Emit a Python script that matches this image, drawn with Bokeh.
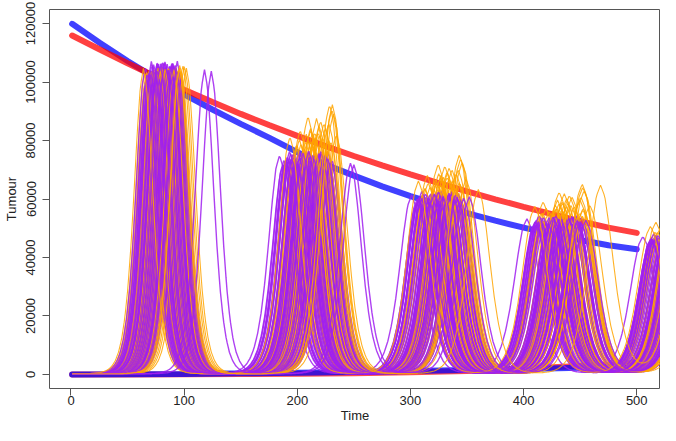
import numpy as np
from bokeh.plotting import figure
from bokeh.models import FixedTicker, BasicTickFormatter, Range1d, ColumnDataSource
from bokeh.embed import file_html
from bokeh.resources import INLINE

# ---------------- data ----------------
# thick decaying lines (top)
T_ENV = [1, 25, 50, 75, 100, 125, 150, 175, 200, 225, 250, 275, 300, 325, 350, 375, 400, 425, 450, 475, 500]
BLUE_TOP = [119900, 113500, 107200, 101300, 95800, 90600, 85700, 81000, 76000, 71800, 68000, 64300,
            61000, 58000, 55200, 52600, 50200, 48000, 46000, 44200, 42800]
RED_TOP = [115900, 111200, 106400, 101800, 97400, 93200, 89100, 85300, 81600, 78100, 74700, 71500,
           68400, 65400, 62600, 59900, 57300, 54800, 52400, 50200, 48400]
# thick lines near zero
T_LOW = [1, 50, 100, 150, 200, 250, 300, 350, 400, 450, 500]
BLUE_LOW = [0, 80, 200, 380, 600, 850, 1150, 1500, 1900, 2300, 2700]
RED_LOW = [0, 20, 60, 130, 250, 450, 750, 1200, 2000, 2900, 3800]

# oscillation waves: centre time, half spread, width, base height
WAVE_CENTRE_P = [81, 208, 324, 429, 528]
WAVE_SPREAD_P = [17, 26, 25, 28, 24]
WAVE_CENTRE_O = [83, 214, 328, 434, 533]
WAVE_SPREAD_O = [20, 22, 23, 27, 24]
WAVE_WIDTH = [11, 13, 14, 15, 15]
WAVE_HEIGHT_P = [104000, 74000, 60500, 52500, 46500]
WAVE_HEIGHT_O = [104000, 78000, 63500, 55000, 48500]
WAVE_HEIGHT_GAIN_O = [0.1, 1, 1, 1, 1]

# one pulse profile (relative height vs distance from the peak, in widths)
PULSE_U = [0, 0.25, 0.5, 0.75, 1.0, 1.25, 1.5, 1.75, 2.0, 2.25, 2.5, 2.75, 3.0, 3.5, 4.0, 4.5, 5.0]
PULSE_V = [1.0, 0.940, 0.787, 0.597, 0.420, 0.280, 0.181, 0.114, 0.0707, 0.0435, 0.0266, 0.0162,
           0.0099, 0.0036, 0.0013, 0.0005, 0.0]

# purple runs
P_PHASE = [0.12, -0.41, 0.63, -0.08, 0.35, -0.77, 0.02, 0.48, -0.22, 0.81,
           -0.55, 0.19, -0.03, 0.27, -0.66, 0.55, -0.15, 0.09, -0.33, 0.71,
           -0.90, 0.41, -0.11, 0.23, -0.48, 0.05, 0.92, -0.27, 0.31, -0.60,
           0.15, -0.06, 0.58, -0.37, 0.44, -0.19, 0.76, -0.72, 0.07, 0.38,
           -0.52, 0.25, -0.01, 0.67, -0.30, 0.11, -0.84, 0.50, -0.13, 0.33,
           -0.44, 0.86, -0.24, 0.03, 0.60, -0.63, 0.21, -0.09, 0.46, -0.35,
           -0.70, 0.17, -0.04, 0.53, -0.28, 0.36, -0.58, 0.08, 0.69, -0.17,
           0.29, -0.46, 0.00, 0.42, -0.80, 0.13, -0.32, 0.74, -0.12, 0.52]
P_DRIFT = [0.10, -0.05, 0.20, -0.15, 0.00, 0.25, -0.10, 0.05, 0.15, -0.20,
           0.08, -0.02, 0.18, -0.12, 0.03, -0.25, 0.12, 0.06, -0.08, 0.22,
           -0.04, 0.14, -0.18, 0.09, 0.01, -0.11, -0.22, 0.17, -0.06, 0.11,
           0.24, -0.14, 0.04, 0.19, -0.09, 0.07, -0.16, 0.13, -0.01, 0.21,
           -0.07, 0.16, -0.19, 0.02, 0.10, -0.13, 0.23, -0.03, 0.12, -0.21,
           0.05, -0.10, 0.18, -0.17, 0.08, 0.14, -0.05, 0.20, -0.12, 0.01,
           0.06, -0.12, 0.15, -0.07, 0.19, -0.16, 0.04, 0.22, -0.09, 0.11,
           -0.18, 0.07, 0.13, -0.04, 0.17, -0.20, 0.09, -0.11, 0.02, 0.16]
P_HEIGHT = [1.00, 0.98, 1.02, 0.97, 1.01, 0.99, 1.03, 0.98, 1.00, 0.96,
            1.02, 0.99, 1.01, 0.97, 1.00, 1.02, 0.98, 1.03, 0.99, 0.97,
            1.01, 1.00, 0.98, 1.02, 0.96, 1.01, 0.99, 1.03, 0.97, 1.00,
            0.98, 1.02, 1.00, 0.99, 1.01, 0.97, 1.03, 0.98, 1.00, 1.02,
            0.99, 0.96, 1.01, 0.98, 1.02, 1.00, 0.97, 1.03, 0.99, 1.01,
            1.00, 0.98, 1.02, 0.97, 1.01, 0.99, 1.00, 0.96, 1.02, 0.98,
            0.99, 1.01, 0.97, 1.02, 1.00, 0.98, 1.03, 0.99, 1.01, 0.97,
            1.00, 1.02, 0.98, 1.01, 0.99, 1.03, 0.97, 1.00, 1.02, 0.98]
# orange runs
O_PHASE = [0.05, -0.62, 0.44, -0.18, 0.79, -0.35, 0.21, -0.88, 0.33, -0.05,
           0.58, -0.47, 0.13, -0.26, 0.95, -0.71, 0.28, -0.12, 0.66, -0.40,
           0.09, -0.57, 0.49, -0.02, 0.37, -0.81, 0.17, -0.30, 0.72, -0.15,
           0.86, -0.52, 0.24, -0.08, 0.54, -0.22, 0.01, 0.40, -0.95, 0.63]
O_DRIFT = [0.12, -0.08, 0.20, 0.05, -0.15, 0.18, -0.03, 0.25, -0.12, 0.09,
           0.15, -0.20, 0.02, 0.22, -0.06, 0.10, -0.17, 0.14, 0.00, 0.19,
           -0.10, 0.07, -0.22, 0.16, 0.04, 0.24, -0.13, 0.11, -0.05, 0.21,
           -0.18, 0.13, 0.06, -0.09, 0.17, 0.03, -0.14, 0.23, 0.08, -0.02]
O_HEIGHT = [0.04, 0.00, 0.08, -0.02, 0.16, 0.02, 0.06, -0.04, 0.11, 0.01,
            0.03, 0.07, -0.03, 0.13, 0.05, 0.00, 0.09, 0.02, 0.18, -0.01,
            0.06, 0.03, 0.10, 0.00, 0.04, -0.05, 0.12, 0.05, 0.02, 0.07,
            0.14, 0.01, 0.05, 0.08, -0.02, 0.03, 0.06, 0.00, 0.04, 0.10]
# late runs
OUT_P_PEAKS = [[118, 247, 352, 455, 545], [124, 250, 347, 450, 540]]
OUT_P_HEIGHTS = [[104000, 72000, 60500, 52500, 46000], [103500, 71500, 60000, 52000, 45500]]
OUT_O_PEAKS = [[96, 231, 360, 468, 540]]
OUT_O_HEIGHTS = [[104500, 92000, 63000, 64500, 48000]]

X_TICKS = [0, 100, 200, 300, 400, 500]
Y_TICKS = [0, 20000, 40000, 60000, 80000, 100000, 120000]

PURPLE = "#A020F0"
ORANGE = "#FFA500"

# ---------------- build runs ----------------
t = np.arange(1, 546)


def run(peaks, heights):
    y = np.full(t.shape, 250.0)
    for w, (tp, h) in enumerate(zip(peaks, heights)):
        u = np.abs(t - tp) / WAVE_WIDTH[w]
        y = y + h * np.interp(u, PULSE_U, PULSE_V, right=0.0)
    return y


purple_runs = []
for ph, dr, hf in zip(P_PHASE, P_DRIFT, P_HEIGHT):
    pk = [WAVE_CENTRE_P[w] + WAVE_SPREAD_P[w] * (ph + dr * w / 4) for w in range(5)]
    hs = [WAVE_HEIGHT_P[w] * hf for w in range(5)]
    purple_runs.append(run(pk, hs))
for pk, hs in zip(OUT_P_PEAKS, OUT_P_HEIGHTS):
    purple_runs.append(run(pk, hs))

orange_runs = []
for ph, dr, hf in zip(O_PHASE, O_DRIFT, O_HEIGHT):
    pk = [WAVE_CENTRE_O[w] + WAVE_SPREAD_O[w] * (ph + dr * w / 4) for w in range(5)]
    hs = [WAVE_HEIGHT_O[w] * (1 + hf * WAVE_HEIGHT_GAIN_O[w]) for w in range(5)]
    orange_runs.append(run(pk, hs))
for pk, hs in zip(OUT_O_PEAKS, OUT_O_HEIGHTS):
    orange_runs.append(run(pk, hs))

# interleave: two purple runs, then one orange run
xs, ys, cols, wid = [], [], [], []
pi, oi = 0, 0
while pi < len(purple_runs) or oi < len(orange_runs):
    for _ in range(2):
        if pi < len(purple_runs):
            xs.append(t)
            ys.append(purple_runs[pi])
            cols.append(PURPLE)
            wid.append(1.4)
            pi += 1
    if oi < len(orange_runs):
        xs.append(t)
        ys.append(orange_runs[oi])
        cols.append(ORANGE)
        wid.append(1.1)
        oi += 1

# ---------------- figure ----------------
p = figure(width=660, height=425, output_backend="svg", toolbar_location=None,
           x_range=Range1d(-19, 521), y_range=Range1d(-4800, 124800),
           min_border_left=49, min_border_right=0, min_border_top=9, min_border_bottom=37)
p.grid.visible = False
p.outline_line_color = "#555555"
p.outline_line_width = 1
p.background_fill_color = "white"
p.border_fill_color = "white"

p.line(T_ENV, BLUE_TOP, line_color="#0000FF", line_width=6, line_alpha=0.75, line_cap="round")
p.line(T_ENV, RED_TOP, line_color="#FF0000", line_width=6, line_alpha=0.75, line_cap="round")
p.line(T_LOW, RED_LOW, line_color="#FF0000", line_width=6, line_alpha=0.7, line_cap="round")
p.line(T_LOW, BLUE_LOW, line_color="#0000FF", line_width=6, line_alpha=0.75, line_cap="round")

src = ColumnDataSource(dict(xs=xs, ys=ys, c=cols, w=wid))
p.multi_line("xs", "ys", source=src, line_color="c", line_width="w", line_alpha=0.85)

for ax in (p.xaxis[0], p.yaxis[0]):
    ax.axis_line_color = None
    ax.major_tick_line_color = "#555555"
    ax.major_tick_out = 7
    ax.major_tick_in = 0
    ax.minor_tick_line_color = None
    ax.major_label_text_font = "Liberation Sans"
    ax.major_label_text_font_size = "13px"
    ax.major_label_text_color = "#222222"
    ax.axis_label_text_font = "Liberation Sans"
    ax.axis_label_text_font_size = "13px"
    ax.axis_label_text_font_style = "normal"
    ax.axis_label_text_color = "#222222"

p.xaxis.ticker = FixedTicker(ticks=X_TICKS)
p.yaxis.ticker = FixedTicker(ticks=Y_TICKS)
p.yaxis.formatter = BasicTickFormatter(use_scientific=False)
p.yaxis.major_label_orientation = "vertical"
p.xaxis.axis_label = "Time"
p.yaxis.axis_label = "Tumour"
p.xaxis.major_label_standoff = 0
p.xaxis.axis_label_standoff = 0
p.yaxis.major_label_standoff = 7
p.yaxis.axis_label_standoff = 5

open("out.html", "w").write(file_html(p, INLINE))
